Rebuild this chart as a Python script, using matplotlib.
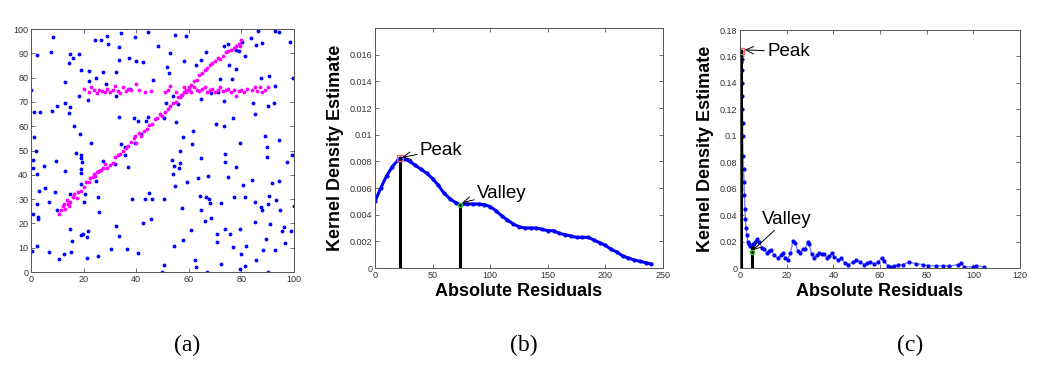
import matplotlib
matplotlib.use('Agg')
import matplotlib.pyplot as plt

plt.rcParams['font.family'] = ['Liberation Sans', 'DejaVu Sans']

# panel (a): random background points and the two structures
blue_x = [8.5, 0, 7.5, 2.2, 1.3, 3.5, 7.8, 10, 1.3, 1.8, 0.9, 0.9, 2.2, 3, 4.9, 5.3, 2.2, 0.9, 2.7, 2.7,
          2.2, 0.4, 6.8, 7, 9.1, 9.5, 10, 10.8, 12.5, 12.9, 12.9, 13, 14.6, 14.8, 14.4, 15, 15.8, 16.3, 17, 15,
          15.2, 15.7, 15, 18.4, 18.4, 18.6, 19, 19.2, 19.4, 19.2, 19.2, 19.2, 18.9, 19.9, 20.1, 19.2, 20.6, 21.4, 21.6, 21.4,
          21.9, 21.9, 21.6, 23, 24.3, 24.6, 24.9, 25.3, 25.8, 25.3, 26.8, 27.2, 27.3, 29, 29.1, 28.5, 30.3, 32.5, 32.3, 31.9,
          32.5, 33.5, 33.4, 33.4, 33.5, 34.2, 34.2, 35.7, 35.7, 36.6, 36.7, 37.2, 37.8, 38.5, 39.2, 39.5, 40.1, 40.5, 39.5, 40.8,
          42.7, 41.8, 42.7, 43.3, 43.7, 44.3, 44.6, 44.8, 45.6, 46, 46.2, 48.4, 49.9, 50.6, 50.6, 50.6, 51.5, 51.9, 52.4, 52.8,
          53.7, 54, 54.3, 54.7, 54.4, 54.6, 54, 55.3, 55.9, 56.3, 56.6, 56.8, 57.6, 57.8, 57.8, 58.2, 59.1, 59.5, 61, 61.4,
          61.6, 62.3, 62.9, 62.9, 63.5, 64.2, 64.6, 64.8, 64.8, 64.8, 66, 66.5, 66.7, 67, 67.6, 67.3, 68.2, 68.6, 68.6, 70.3,
          70.8, 70.8, 71.1, 71.8, 72.4, 72.2, 73.3, 73.4, 73.4, 73.7, 73.9, 73.7, 75, 74.9, 75.3, 75.6, 76.6, 76.8, 76.8, 77.2,
          77.8, 78.1, 77.8, 79.1, 79.6, 79.6, 79.4, 80, 80.4, 80.6, 81.3, 81.3, 81.5, 81.6, 83.8, 84.2, 84.6, 85.1, 85.1, 85.3,
          85.4, 85.7, 86.3, 87.6, 87.6, 87.8, 88, 88.2, 89.1, 89.2, 89.9, 89.9, 90.1, 90.4, 90.4, 90.3, 90.1, 91, 91.6, 92.3,
          92.7, 92.9, 93, 92.8, 94.3, 94.2, 94.2, 94.6, 95.6, 96.2, 96.5, 97.3, 98.4, 99, 99.4, 99.6, 99.9]
blue_y = [96.6, 75, 90.4, 89.1, 65.9, 65.9, 66.2, 68.5, 55.7, 50, 46, 43, 40.3, 33.3, 43.7, 34.7, 27.8, 24, 21.9, 22.7,
          10.7, 8.5, 8.1, 28.9, 32.9, 45.8, 25.4, 5.2, 7.6, 41.5, 78.1, 69.5, 65.6, 68.1, 86, 89.7, 88, 60.1, 48.8, 17.6,
          8.3, 12.7, 31.9, 72.5, 89.8, 56.7, 48.3, 47, 45.4, 42.4, 40.9, 36.2, 15.4, 15.8, 28.9, 83.2, 32.3, 14.3, 16.9, 5.9,
          82.7, 78.7, 70.8, 53, 95.6, 79.8, 37.4, 30.7, 24.8, 6.7, 95.6, 82.3, 45.8, 97, 93.8, 77.3, 9.6, 82.5, 72.6, 44.4,
          18.8, 87.1, 92.6, 63.7, 14.9, 98.3, 52.7, 48.1, 51.6, 9.6, 43.3, 88, 75.2, 30, 63.5, 96.7, 86.9, 62.2, 53, 8,
          86.4, 56.8, 20.2, 30, 62.3, 98.8, 63.7, 32.7, 22, 30, 79.1, 93.1, 0, 2.8, 30, 63.5, 69.5, 84.2, 81.8, 90.1,
          46.1, 40.3, 43.6, 35.5, 10.6, 97.4, 72.5, 61.6, 69, 42.6, 44.7, 49.8, 26.5, 13.1, 55.7, 86.9, 97.2, 37.1, 17.2, 52.7,
          58, 4.8, 2.1, 85.3, 38.5, 31.4, 87.1, 25.7, 46.8, 71.3, 21, 90.5, 30.7, 0, 30, 39.6, 28.2, 22.4, 73.6, 60.8,
          15.8, 12.4, 74, 79.5, 28.5, 3.2, 92.8, 70.4, 60.1, 48.6, 45.4, 17.6, 93.8, 39.2, 85, 15.8, 79.4, 63.5, 10.3, 30.9,
          91.5, 83.5, 43.3, 90.8, 53.2, 17.6, 1.4, 7.6, 94.5, 35.8, 2.3, 89, 30.9, 10.7, 96.3, 37.8, 69.5, 64.9, 28.9, 20.6,
          5.1, 93.3, 99.3, 79.8, 26.8, 25.4, 94.2, 8.9, 56.1, 13.5, 51.6, 47.5, 68.4, 80.5, 31.2, 27.9, 0, 19.9, 36.5, 69.5,
          99.3, 76.6, 29.6, 8.9, 98.6, 54.3, 37.6, 25.4, 16.9, 18.6, 12, 45.4, 94.6, 16.8, 48.1, 79.8, 27.2]

mag_x = [10.5, 11.5, 12, 12.5, 13, 13.5, 14, 14.5, 15, 16, 16.5, 17.5, 18, 19, 20, 21, 22, 22.5, 23.5, 24,
         24.5, 25, 26, 26.5, 27.5, 28, 29, 30, 31, 32, 33, 34, 35, 36, 37, 38, 39, 39.5, 40, 41,
         42, 43, 44, 45, 46, 47, 48, 49, 50, 51, 52, 53, 54, 55, 56, 57, 58, 59, 60, 61,
         62, 63, 64, 65, 66, 67, 68, 69, 70, 71, 72, 73, 74, 75, 76, 77, 78, 79, 80, 79.5,
         20, 22, 23, 24, 25, 26, 27, 28, 29, 30, 31, 32, 33, 34, 35, 36, 37, 38, 40, 41,
         43.5, 45.5, 51, 52, 53, 55, 56.5, 57.5, 58, 59, 60, 61, 62, 63, 64, 65, 66, 67, 68, 69,
         70, 71, 72, 73, 74, 75, 76, 77, 78, 79, 80, 81, 82, 84, 85, 86, 87, 88, 89, 90]
mag_y = [24, 25.5, 27, 28, 26, 29.5, 28, 27, 29, 31, 32, 30.5, 33, 33.5, 35, 37, 37, 38.5, 39, 40.5,
         39.5, 41, 41.5, 42, 43, 44.5, 43, 44, 45, 47.5, 48, 48.5, 50, 51, 52, 53.5, 55, 56, 53, 57,
         56, 58, 59, 60.5, 61, 63, 63.5, 65, 64, 66, 67, 68.5, 69.5, 70, 72, 73, 74, 75, 76, 77,
         78.5, 79, 81, 82, 83, 84, 85, 86, 87, 88, 87.5, 89, 90.5, 91, 91.5, 92, 93, 94, 95.5, 93,
         75.5, 74, 76, 75, 73.5, 75, 74.5, 74, 75.5, 74, 75, 76.5, 74.5, 73.5, 76, 74.5, 75.5, 75, 77.5, 75,
         74, 74.5, 74, 75, 76.5, 74, 72, 73, 76, 74, 75, 74, 76, 75, 74.5, 75.5, 76, 74, 75, 75.5,
         74, 75, 76, 74.5, 75, 75.5, 74, 75, 72.5, 74.5, 75, 74, 75.5, 75, 76, 74.5, 76, 74, 75, 76]

# panel (b): kernel density estimate of the residuals
b_x = [0, 5, 10, 15, 20, 22, 25, 30, 35, 40, 45, 50, 55, 60, 65, 70, 74, 80, 85, 90,
       95, 100, 105, 110, 115, 120, 125, 130, 135, 140, 145, 150, 155, 160, 165, 170, 175, 180, 185, 190,
       195, 200, 205, 210, 215, 220, 225, 230, 235, 240]
b_y = [0.0050, 0.0060, 0.0069, 0.0076, 0.0081, 0.00822, 0.0082, 0.0080, 0.0077, 0.0074, 0.0071, 0.0067, 0.0062, 0.0056, 0.0052, 0.0049, 0.00475, 0.0048, 0.0048, 0.0048,
       0.00475, 0.0046, 0.0043, 0.0039, 0.0036, 0.0033, 0.0031, 0.0030, 0.0030, 0.0030, 0.0029, 0.0028, 0.0028, 0.0026, 0.0025, 0.0024, 0.0023, 0.0023, 0.0023, 0.0021,
       0.0019, 0.0017, 0.0014, 0.0012, 0.0009, 0.00075, 0.0006, 0.0005, 0.0004, 0.0003]
b_peak = (22, 0.00822)
b_valley = (74, 0.00475)

# panel (c)
c_x = [0.1, 0.2, 0.3, 0.35, 0.4, 0.5, 0.6, 0.7, 0.8, 0.85, 0.9, 1.0, 1.1, 1.15, 1.3, 1.5, 1.7, 1.9, 2.1, 2.3, 2.6, 2.9, 3.3, 3.8, 4.3, 5.0,
       5.4, 6.4, 7.3, 8.3, 9.4, 10.4, 11.4, 12.6, 13.3, 14.7, 16.1, 17.6, 18.3, 19.3, 20.4, 21.6, 22.7, 23.7, 24.7, 25.9,
       26.9, 27.9, 29, 29.7, 30.7, 31.6, 33, 34, 35.1, 36.1, 37.3, 38.3, 39.4, 40.4, 41.9, 43.3, 45, 46.4, 48.3, 49.7,
       51.4, 53.3, 54.4, 55.9, 57.6, 59, 60.7, 61.9, 63.3, 64.7, 66.1, 67.9, 69.7, 72.6, 75.4, 78.3, 80.4, 84, 86.9, 89.7,
       93.3, 94.7, 96.1, 99.7, 101.1, 104.7]
c_y = [0.115, 0.13, 0.14, 0.15, 0.156, 0.164, 0.162, 0.158, 0.15, 0.14, 0.13, 0.12, 0.11, 0.10, 0.085, 0.075, 0.065, 0.055, 0.045, 0.037, 0.030, 0.025, 0.020, 0.018, 0.0167, 0.016,
       0.018, 0.0197, 0.0218, 0.0197, 0.0154, 0.014, 0.0115, 0.0128, 0.0136, 0.0095, 0.0077, 0.0095, 0.0115, 0.0077, 0.0064, 0.011, 0.0205, 0.0192, 0.0128, 0.0115,
       0.014, 0.014, 0.020, 0.018, 0.0103, 0.0077, 0.0095, 0.0115, 0.0108, 0.0103, 0.0077, 0.009, 0.0115, 0.0082, 0.0064, 0.0072, 0.0038, 0.0026, 0.0044, 0.0059,
       0.0044, 0.0026, 0.0038, 0.0044, 0.0033, 0.0044, 0.0077, 0.0051, 0.0018, 0.0008, 0.0013, 0.0026, 0.0026, 0.0044, 0.0033, 0.0026, 0.0018, 0.0018, 0.0018, 0.0013,
       0.0026, 0.0038, 0.0008, 0.0008, 0.0018, 0.0008]
c_peak = (0.5, 0.164)
c_valley = (5.0, 0.016)

W, H = 1050, 366
fig = plt.figure(figsize=(W / 100, H / 100), dpi=100)


def box(l, r, t, b):
    return [l / W, 1 - b / H, (r - l) / W, (b - t) / H]


def style(ax):
    ax.tick_params(direction='in', top=True, right=True, labelsize=6.5,
                   labelcolor='#333333', color='#555555', length=3, width=0.6, pad=2)
    for s in ax.spines.values():
        s.set_color('#555555')
        s.set_linewidth(0.7)


lab = dict(fontsize=13, fontweight='bold')
arrow = dict(arrowstyle='->', color='k', lw=0.7, shrinkA=0, shrinkB=0)

# (a)
ax1 = fig.add_axes(box(31, 294, 29, 272))
ax1.plot(blue_x, blue_y, '.', color='#0000ff', markersize=3.5)
ax1.plot(mag_x, mag_y, '.', color='#ff00ff', markersize=3.5)
ax1.set_xlim(0, 100)
ax1.set_ylim(0, 100)
ax1.set_xticks(range(0, 101, 20))
ax1.set_yticks(range(0, 101, 10))
style(ax1)

# (b)
ax2 = fig.add_axes(box(375, 663, 28, 268))
ax2.plot(b_x, b_y, '.-', color='#0000ff', linewidth=2.2, markersize=4)
ax2.plot([b_peak[0]] * 2, [0, b_peak[1]], color='k', linewidth=2.2)
ax2.plot([b_valley[0]] * 2, [0, b_valley[1]], color='k', linewidth=2.2)
ax2.plot(*b_peak, 's', mfc='none', mec='#ff6060', markersize=4)
ax2.plot(*b_valley, 'o', mfc='none', mec='#30c030', markersize=3)
ax2.set_xlim(0, 250)
ax2.set_ylim(0, 0.018)
ax2.set_xticks(range(0, 251, 50))
b_ticks = [0, 0.002, 0.004, 0.006, 0.008, 0.01, 0.012, 0.014, 0.016]
ax2.set_yticks(b_ticks)
ax2.set_yticklabels([f'{v:g}' for v in b_ticks])
ax2.annotate('Peak', xy=(23.5, 0.0083), xytext=(39, 0.00885), fontsize=13.5,
             va='center', arrowprops=arrow)
ax2.annotate('Valley', xy=(75.5, 0.0049), xytext=(88.5, 0.0056), fontsize=13.5,
             va='center', arrowprops=arrow)
ax2.set_xlabel('Absolute Residuals', labelpad=2, **lab)
ax2.set_ylabel('Kernel Density Estimate', labelpad=4, **lab)
style(ax2)

# (c)
ax3 = fig.add_axes(box(740, 1020, 30, 268))
ax3.plot(c_x, c_y, '-', color='#7f7fff', linewidth=1)
ax3.plot(c_x, c_y, '.', color='#0000ff', markersize=4)
ax3.plot([c_peak[0]] * 2, [0, c_peak[1]], color='k', linewidth=2.2)
ax3.plot([c_valley[0]] * 2, [0, c_valley[1]], color='k', linewidth=2.2)
ax3.plot(*c_peak, 's', mfc='none', mec='#ff6060', markersize=5)
ax3.plot(c_valley[0], 0.012, 'o', mfc='none', mec='#30c030', markersize=3)
ax3.set_xlim(0, 120)
ax3.set_ylim(0, 0.18)
ax3.set_xticks(range(0, 121, 20))
c_ticks = [0, 0.02, 0.04, 0.06, 0.08, 0.1, 0.12, 0.14, 0.16, 0.18]
ax3.set_yticks(c_ticks)
ax3.set_yticklabels([f'{v:g}' for v in c_ticks])
ax3.annotate('Peak', xy=(2.1, 0.165), xytext=(11.6, 0.1636), fontsize=13.5,
             va='center', arrowprops=arrow)
ax3.annotate('Valley', xy=(5.6, 0.0136), xytext=(9.4, 0.037), fontsize=13.5,
             va='center', arrowprops=arrow)
ax3.set_xlabel('Absolute Residuals', labelpad=2, **lab)
ax3.set_ylabel('Kernel Density Estimate', labelpad=4, **lab)
style(ax3)

for label, xc in [('(a)', 187), ('(b)', 524), ('(c)', 910)]:
    fig.text(xc / W, 1 - 345 / H, label, fontsize=17, family=['Liberation Serif', 'DejaVu Serif'],
             ha='center', va='center')

fig.savefig('out.png', dpi=100)
